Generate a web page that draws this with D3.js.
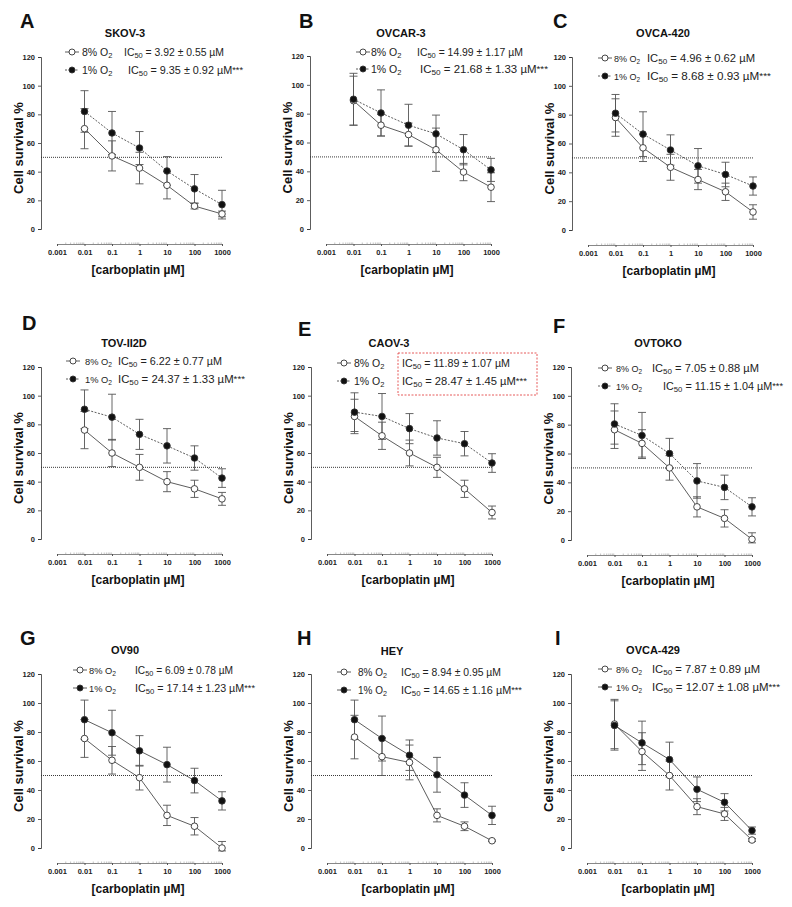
<!DOCTYPE html>
<html><head><meta charset="utf-8">
<script src="https://cdn.jsdelivr.net/npm/d3@7"></script>
<style>
body{margin:0;background:#fff}
svg{display:block}
text{font-family:"Liberation Sans",Arial,Helvetica,sans-serif}
</style>
</head><body>
<svg id="chart" width="792" height="907"></svg>
<script>
// ---------- data ----------
const doses = [0.01, 0.1, 1, 10, 100, 1000];
const xTickValues = [0.001, 0.01, 0.1, 1, 10, 100, 1000];
const xTickLabels = ["0.001", "0.01", "0.1", "1", "10", "100", "1000"];
const yTickValues = [0, 20, 40, 60, 80, 100, 120];
const panelLetters = ["A", "B", "C", "D", "E", "F", "G", "H", "I"];
const cellLines = ["SKOV-3", "OVCAR-3", "OVCA-420", "TOV-II2D", "CAOV-3", "OVTOKO", "OV90", "HEY", "OVCA-429"];
const seriesLabels = ["8% O", "1% O"];
const ic50Normoxia = ["3.92 ± 0.55", "14.99 ± 1.17", "4.96 ± 0.62", "6.22 ± 0.77", "11.89 ± 1.07", "7.05 ± 0.88", "6.09 ± 0.78", "8.94 ± 0.95", "7.87 ± 0.89"];
const ic50Hypoxia = ["9.35 ± 0.92", "21.68 ± 1.33", "8.68 ± 0.93", "24.37 ± 1.33", "28.47 ± 1.45", "11.15 ± 1.04", "17.14 ± 1.23", "14.65 ± 1.16", "12.07 ± 1.08"];
const survival8 = [
  [70, 51, 42.5, 30.5, 16, 10.5],
  [89, 72, 65.5, 55, 39.5, 29],
  [78, 57, 43.5, 35, 26.5, 12.5],
  [76, 60, 50, 40, 35, 28],
  [85.5, 72, 60, 50, 35, 18.5],
  [76.5, 67, 50, 23, 15, 0.5],
  [75.5, 60.5, 48.5, 22.5, 15, 0],
  [76.5, 63, 59, 22.5, 15, 5],
  [85.5, 66.5, 50, 28.5, 23.5, 5.5]
];
const error8 = [
  [14, 10.5, 11, 9.5, 2, 2],
  [17, 7.5, 8, 15, 6, 10],
  [13, 9.5, 9, 7, 6, 5],
  [13, 9.5, 9, 7, 6, 4.5],
  [12, 9.5, 9, 7, 6, 4.5],
  [13, 9.5, 8.5, 7, 6, 4.5],
  [13, 9.5, 8.5, 7, 6, 4.5],
  [15, 13, 12, 4.5, 3, 0.5],
  [17, 13, 10, 5.5, 4.5, 1]
];
const survival1 = [
  [82, 67, 56.5, 40.5, 28, 17],
  [90, 80.5, 72, 66, 55, 41],
  [81, 66.5, 55.5, 44.5, 38.5, 30.5],
  [90.5, 85, 73, 65, 56.5, 42.5],
  [88.5, 85.5, 77, 70.5, 66.5, 53],
  [80.5, 72.5, 60, 41, 36.5, 23],
  [88.5, 79.5, 67, 57.5, 46.5, 32.5],
  [88.5, 75.5, 64, 50.5, 36.5, 22.5],
  [84.5, 72.5, 61, 40.5, 31.5, 12]
];
const error1 = [
  [14.5, 15, 11.5, 10, 10, 10],
  [18, 16, 14.5, 13, 10.5, 8],
  [13, 15.5, 10.5, 12, 8.5, 6.3],
  [13.5, 16, 10.5, 12, 8.5, 6.5],
  [13.5, 16, 10.5, 12, 8.5, 6.5],
  [14, 16, 10.5, 12, 8.5, 6.3],
  [13.5, 15.5, 10.5, 12, 8.5, 6.3],
  [13.5, 15.5, 10.5, 12, 8.5, 6.3],
  [17, 15, 12, 8.5, 6, 2.5]
];
const hypoxiaDashed = [true, true, true, true, true, true, false, false, false];

// ---------- layout (positions / sizes only) ----------
const layout = [
  {ax:41,  yT:57,  yB:229, lx:20,  lb:28,  tx:125, tb:37,  mx:72,  r1:52,  r2:70,  lab:82,  labFs:10.5, ic1:124, w1:100, ic2:128, w2:115},
  {ax:310, yT:56,  yB:229, lx:299, lb:28,  tx:401, tb:37,  mx:363, r1:52,  r2:69,  lab:371, labFs:10.5, ic1:417, w1:106, ic2:420, w2:128},
  {ax:572, yT:57,  yB:230, lx:553, lb:28,  tx:663, tb:37,  mx:605, r1:58,  r2:76,  lab:614, labFs:9,    ic1:647, w1:108, ic2:647, w2:124},
  {ax:41,  yT:367, yB:539, lx:22,  lb:330, tx:124, tb:347, mx:73,  r1:361, r2:379, lab:85,  labFs:9.3,  ic1:118, w1:104, ic2:118, w2:127},
  {ax:311, yT:367, yB:539, lx:298, lb:336, tx:389, tb:347, mx:344, r1:363, r2:381, lab:354, labFs:10.5, ic1:402, w1:108, ic2:402, w2:125, box:[398,353,537,395]},
  {ax:571, yT:367, yB:540, lx:553, lb:333, tx:658, tb:347, mx:605, r1:368, r2:386, lab:616, labFs:9,    ic1:652, w1:107, ic2:663, w2:120},
  {ax:41,  yT:674, yB:848, lx:20,  lb:645, tx:125, tb:654, mx:80,  r1:670, r2:688, lab:89,  labFs:9.3,  ic1:135, w1:98,  ic2:135, w2:120},
  {ax:311, yT:674, yB:848, lx:297, lb:645, tx:392, tb:655, mx:344, r1:672, r2:690, lab:358, labFs:10,   ic1:401, w1:100, ic2:401, w2:121},
  {ax:571, yT:674, yB:848, lx:555, lb:645, tx:653, tb:654, mx:605, r1:669, r2:687, lab:616, labFs:9,    ic1:652, w1:108, ic2:652, w2:128}
];

const svg = d3.select("#chart");
const minorTicks = [];
[0.001, 0.01, 0.1, 1, 10, 100].forEach(d => { for (let k = 2; k <= 9; k++) minorTicks.push(d * k); });

function subText(sel, parts, size) {
  parts.forEach(p => {
    const t = sel.append("tspan").text(p[0]);
    if (p[1]) t.attr("font-size", size * 0.72).attr("dy", 2.5);
    else if (p[2]) t.attr("dy", -2.5);
  });
}

layout.forEach((L, i) => {
  const g = svg.append("g");
  const x = d3.scaleLog().domain([0.001, 1000]).range([L.ax + 16, L.ax + 181]);
  const y = d3.scaleLinear().domain([0, 120]).range([L.yB, L.yT]);

  // panel letter & title
  g.append("text").attr("x", L.lx).attr("y", L.lb).attr("font-size", 20).attr("font-weight", "bold")
    .attr("fill", "#111").text(panelLetters[i]);
  g.append("text").attr("x", L.tx).attr("y", L.tb).attr("text-anchor", "middle").attr("font-size", 11)
    .attr("font-weight", "bold").attr("fill", "#111").text(cellLines[i]);

  // y axis
  const ya = g.append("g").attr("transform", `translate(${L.ax},0)`)
    .call(d3.axisLeft(y).tickValues(yTickValues).tickSize(3).tickPadding(3).tickFormat(d3.format("d")));
  ya.select(".domain").attr("stroke", "#333").attr("stroke-width", 0.8);
  ya.selectAll(".tick line").attr("stroke", "#333").attr("stroke-width", 0.8);
  ya.selectAll("text").attr("font-size", 7.5).attr("font-weight", "bold").attr("fill", "#222")
    .attr("font-family", "'Liberation Sans',Arial,sans-serif");

  // x axis
  const xy = L.yB + 15;
  const xm = g.append("g").attr("transform", `translate(0,${xy})`)
    .call(d3.axisTop(x).tickValues(minorTicks).tickSize(1.5).tickFormat(""));
  xm.select(".domain").remove();
  xm.selectAll(".tick line").attr("stroke", "#999").attr("stroke-width", 0.6);
  const xa = g.append("g").attr("transform", `translate(0,${xy})`)
    .call(d3.axisBottom(x).tickValues(xTickValues).tickSizeOuter(0).tickSize(2).tickPadding(4)
      .tickFormat((d, k) => xTickLabels[k]));
  xa.select(".domain").attr("stroke", "#555").attr("stroke-width", 0.7);
  xa.selectAll(".tick line").attr("stroke", "#555");
  xa.selectAll("text").attr("font-size", 7.5).attr("font-weight", "bold").attr("fill", "#222")
    .attr("font-family", "'Liberation Sans',Arial,sans-serif");

  // axis titles
  g.append("text").attr("transform", `translate(${L.ax - 18},${(L.yT + L.yB) / 2 + 5}) rotate(-90)`)
    .attr("text-anchor", "middle").attr("font-size", 13).attr("font-weight", "bold").attr("fill", "#111")
    .text("Cell survival %");
  g.append("text").attr("x", L.ax + 97).attr("y", L.yB + 45).attr("text-anchor", "middle")
    .attr("font-size", 12).attr("font-weight", "bold").attr("fill", "#111").text("[carboplatin µM]");

  // 50% reference line
  g.append("line").attr("x1", L.ax).attr("x2", x(1000) + 1).attr("y1", y(50)).attr("y2", y(50))
    .attr("stroke", "#222").attr("stroke-width", 0.9).attr("stroke-dasharray", "1,1");

  const series = [
    {v: survival8[i], e: error8[i], fill: "#fff", dash: null},
    {v: survival1[i], e: error1[i], fill: "#111", dash: hypoxiaDashed[i] ? "2,1.5" : null}
  ];
  // error bars
  series.forEach(s => {
    const eb = g.append("g").attr("stroke", "#555").attr("stroke-width", 0.9);
    doses.forEach((d, k) => {
      const cx = x(d), lo = y(Math.max(s.v[k] - s.e[k], -2)), hi = y(s.v[k] + s.e[k]);
      eb.append("line").attr("x1", cx).attr("x2", cx).attr("y1", lo).attr("y2", hi);
      eb.append("line").attr("x1", cx - 4).attr("x2", cx + 4).attr("y1", lo).attr("y2", lo);
      eb.append("line").attr("x1", cx - 4).attr("x2", cx + 4).attr("y1", hi).attr("y2", hi);
    });
  });
  // lines
  const line = d3.line().x((d, k) => x(doses[k])).y(d => y(d));
  series.forEach(s => {
    g.append("path").attr("d", line(s.v)).attr("fill", "none").attr("stroke", "#333")
      .attr("stroke-width", 0.8).attr("stroke-dasharray", s.dash);
  });
  // markers
  series.forEach(s => {
    g.selectAll(null).data(s.v).enter().append("circle")
      .attr("cx", (d, k) => x(doses[k])).attr("cy", d => y(d)).attr("r", 3.3)
      .attr("fill", s.fill).attr("stroke", "#333").attr("stroke-width", 0.9);
  });

  // legend
  const fs = 10.5;
  [[L.r1, "#fff", null, ic50Normoxia[i], L.ic1, "", L.w1], [L.r2, "#111", hypoxiaDashed[i] ? "2,1.5" : null, ic50Hypoxia[i], L.ic2, "***", L.w2]]
    .forEach((r, k) => {
      g.append("line").attr("x1", L.mx - 7).attr("x2", L.mx + 7).attr("y1", r[0]).attr("y2", r[0])
        .attr("stroke", "#333").attr("stroke-width", 0.8).attr("stroke-dasharray", r[2]);
      g.append("circle").attr("cx", L.mx).attr("cy", r[0]).attr("r", 3).attr("fill", r[1])
        .attr("stroke", "#333").attr("stroke-width", 0.9);
      const t1 = g.append("text").attr("x", L.lab).attr("y", r[0] + 3.5).attr("font-size", L.labFs).attr("fill", "#222");
      subText(t1, [[seriesLabels[k]], ["2", true]], L.labFs);
      const t2 = g.append("text").attr("x", r[4]).attr("y", r[0] + 3.5).attr("font-size", fs).attr("fill", "#222")
        .attr("textLength", r[6]).attr("lengthAdjust", "spacingAndGlyphs");
      subText(t2, [["IC"], ["50", true], [" = " + r[3] + " µM", false, true]], fs);
      if (r[5]) t2.append("tspan").attr("font-size", 9).attr("dy", -1).text(r[5]);
    });
  if (L.box) {
    g.append("rect").attr("x", L.box[0]).attr("y", L.box[1]).attr("width", L.box[2] - L.box[0])
      .attr("height", L.box[3] - L.box[1]).attr("fill", "none").attr("stroke", "#e03030")
      .attr("stroke-width", 0.8).attr("stroke-dasharray", "2,1.5");
  }
});
</script>
</body></html>
